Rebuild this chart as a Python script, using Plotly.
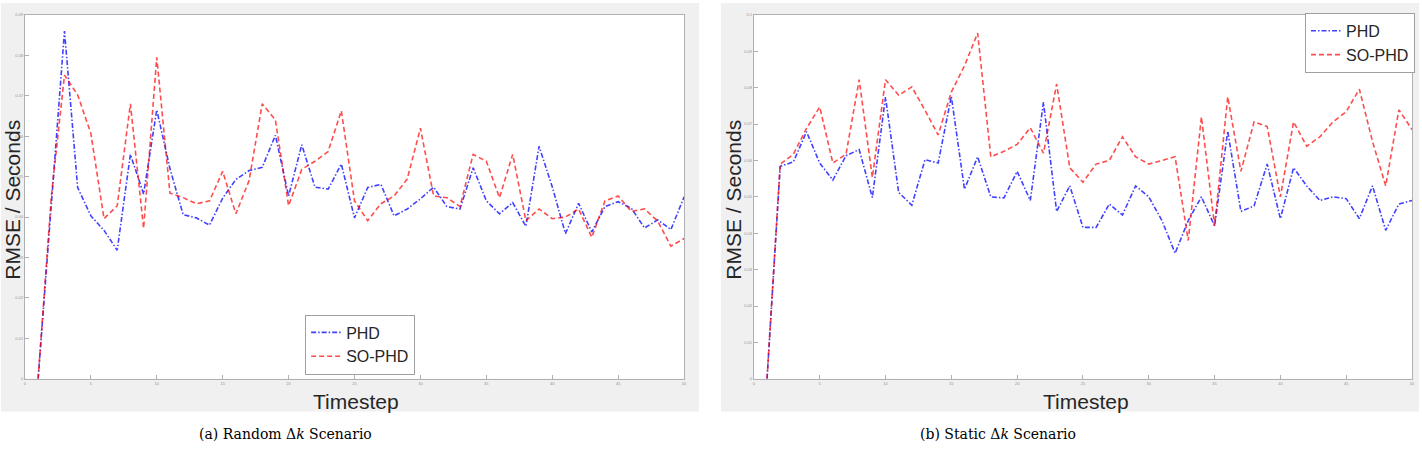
import plotly.graph_objects as go

W, H = 1422, 453

timesteps = list(range(1, 51))

# (a) Random Δk scenario
phd_random = [0.0, 0.042, 0.086, 0.0473, 0.0403, 0.0367, 0.0318, 0.0555, 0.0457, 0.0665,
              0.052, 0.0406, 0.0398, 0.038, 0.0447, 0.0493, 0.0515, 0.0523, 0.0602, 0.0452,
              0.0579, 0.0474, 0.0469, 0.0531, 0.0398, 0.0473, 0.0481, 0.0403, 0.042, 0.0445,
              0.0474, 0.0426, 0.042, 0.0522, 0.044, 0.0408, 0.0436, 0.0377, 0.0575, 0.0475,
              0.0359, 0.0434, 0.0363, 0.0426, 0.0438, 0.0422, 0.0373, 0.0393, 0.0369, 0.045]
sophd_random = [0.0, 0.045, 0.0751, 0.0702, 0.0607, 0.0396, 0.0428, 0.068, 0.0372, 0.0795,
                0.0459, 0.0448, 0.0433, 0.044, 0.0513, 0.0408, 0.049, 0.068, 0.064, 0.0428,
                0.0518, 0.0538, 0.0562, 0.0663, 0.044, 0.0391, 0.0433, 0.0452, 0.0494, 0.062,
                0.0452, 0.0448, 0.0426, 0.0555, 0.0538, 0.0448, 0.0555, 0.0391, 0.042, 0.0396,
                0.040, 0.042, 0.035, 0.044, 0.0452, 0.0414, 0.042, 0.039, 0.0328, 0.0347]

# (b) Static Δk scenario
phd_static = [0.0, 0.0584, 0.0596, 0.0679, 0.0593, 0.0546, 0.0613, 0.063, 0.0498, 0.0774,
              0.0512, 0.0477, 0.0602, 0.0593, 0.0776, 0.0521, 0.061, 0.050, 0.0497, 0.057,
              0.049, 0.076, 0.046, 0.053, 0.0416, 0.0416, 0.048, 0.045, 0.053, 0.050,
              0.0435, 0.0345, 0.0435, 0.050, 0.042, 0.068, 0.046, 0.0475, 0.059, 0.044,
              0.058, 0.053, 0.049, 0.050, 0.0495, 0.044, 0.053, 0.0408, 0.048, 0.049]
sophd_static = [0.0, 0.059, 0.0617, 0.0688, 0.0747, 0.0593, 0.0617, 0.0822, 0.0553, 0.0822,
                0.0779, 0.0802, 0.0738, 0.067, 0.0788, 0.086, 0.095, 0.061, 0.0625, 0.0644,
                0.069, 0.062, 0.081, 0.058, 0.054, 0.059, 0.060, 0.0665, 0.061, 0.059,
                0.060, 0.061, 0.038, 0.072, 0.042, 0.0775, 0.057, 0.0706, 0.0693, 0.050,
                0.0706, 0.0639, 0.0665, 0.0706, 0.0734, 0.0796, 0.0652, 0.053, 0.0739, 0.0685]

x_ticks = list(range(0, 51, 5))
y_ticks_a = [i / 100 for i in range(0, 10)]
y_ticks_b = [i / 100 for i in range(0, 11)]
y_ticklabels_a = ["0"] + [f"{v:.2f}" for v in y_ticks_a[1:]]
y_ticklabels_b = ["0"] + [f"{v:.2f}" for v in y_ticks_b[1:-1]] + ["0.1"]

series_names = ["PHD", "SO-PHD"]
captions = ["(a) Random Δ<i>k</i> Scenario", "(b) Static Δ<i>k</i> Scenario"]

BLUE = "rgba(0,0,255,0.75)"
RED = "rgba(255,0,0,0.7)"
BLUE_DASH = "5px,2px,1.5px,2px"
RED_DASH = "5px,3px"

fig = go.Figure()

def px_x(p):
    return p / W

def px_y(p):
    return 1 - p / H

fig.add_trace(go.Scatter(x=timesteps, y=phd_random, name=series_names[0], mode="lines",
                         line=dict(color=BLUE, width=1.6, dash=BLUE_DASH),
                         xaxis="x", yaxis="y", legend="legend"))
fig.add_trace(go.Scatter(x=timesteps, y=sophd_random, name=series_names[1], mode="lines",
                         line=dict(color=RED, width=1.6, dash=RED_DASH),
                         xaxis="x", yaxis="y", legend="legend"))
fig.add_trace(go.Scatter(x=timesteps, y=phd_static, name=series_names[0], mode="lines",
                         line=dict(color=BLUE, width=1.6, dash=BLUE_DASH),
                         xaxis="x2", yaxis="y2", legend="legend2"))
fig.add_trace(go.Scatter(x=timesteps, y=sophd_static, name=series_names[1], mode="lines",
                         line=dict(color=RED, width=1.6, dash=RED_DASH),
                         xaxis="x2", yaxis="y2", legend="legend2"))

axis_common = dict(showline=True, linecolor="#b0b0b0", linewidth=1, mirror=True,
                   ticks="inside", ticklen=4, tickcolor="#b0b0b0", showgrid=False,
                   zeroline=False, tickfont=dict(size=4, color="#909090",
                                                 family="Liberation Sans"))

ydom = [px_y(380), px_y(12)]
xdom_a = [px_x(24), px_x(685)]
xdom_b = [px_x(755), px_x(1415)]
fig.update_layout(
    width=W, height=H,
    margin=dict(l=0, r=0, t=0, b=0),
    paper_bgcolor="white",
    plot_bgcolor="white",
    font=dict(family="Liberation Sans, Arial, sans-serif", color="#262626"),
    xaxis=dict(domain=xdom_a, range=[0, 50], tickvals=x_ticks,
               anchor="y", **axis_common),
    yaxis=dict(domain=ydom, range=[0, 0.09], tickvals=y_ticks_a,
               ticktext=y_ticklabels_a, anchor="x", **axis_common),
    xaxis2=dict(domain=xdom_b, range=[0, 50], tickvals=x_ticks,
                anchor="y2", **axis_common),
    yaxis2=dict(domain=ydom, range=[0, 0.1], tickvals=y_ticks_b,
                ticktext=y_ticklabels_b, anchor="x2", **axis_common),
    legend=dict(x=px_x(305), y=px_y(315), xanchor="left", yanchor="top",
                bgcolor="white", bordercolor="#a0a0a0", borderwidth=1,
                font=dict(size=16, color="#262626"), itemwidth=30,
                tracegroupgap=0),
    legend2=dict(x=px_x(1418), y=px_y(10), xanchor="right", yanchor="top",
                 bgcolor="white", bordercolor="#a0a0a0", borderwidth=1,
                 font=dict(size=16, color="#262626"), itemwidth=30,
                 tracegroupgap=0),
)

# gray figure panels (MATLAB style) with white axes areas on top
for x0, x1 in [(0, 700), (722, 1422)]:
    fig.add_shape(type="rect", xref="paper", yref="paper",
                  x0=px_x(x0), x1=px_x(x1), y0=px_y(413), y1=1,
                  fillcolor="#f0f0f0", line=dict(width=0), layer="below")
for dom in [xdom_a, xdom_b]:
    fig.add_shape(type="rect", xref="paper", yref="paper",
                  x0=dom[0], x1=dom[1], y0=ydom[0], y1=ydom[1],
                  fillcolor="white", line=dict(width=0), layer="below")

annotations = []
for cx in [12, 735]:
    annotations.append(dict(text="RMSE / Seconds", textangle=-90, xref="paper", yref="paper",
                            x=px_x(cx), y=px_y(199), showarrow=False,
                            font=dict(size=21, color="#262626"),
                            xanchor="center", yanchor="middle"))
for cx in [356, 1088]:
    annotations.append(dict(text="Timestep", xref="paper", yref="paper",
                            x=px_x(cx), y=px_y(403), showarrow=False,
                            font=dict(size=21, color="#262626"),
                            xanchor="center", yanchor="middle"))
for cx, cap in zip([285, 1000], captions):
    annotations.append(dict(text=cap, xref="paper", yref="paper",
                            x=px_x(cx), y=px_y(436), showarrow=False,
                            font=dict(size=14, color="black", family="DejaVu Serif"),
                            xanchor="center", yanchor="middle"))
fig.update_layout(annotations=annotations)

fig.write_html("out.html")
